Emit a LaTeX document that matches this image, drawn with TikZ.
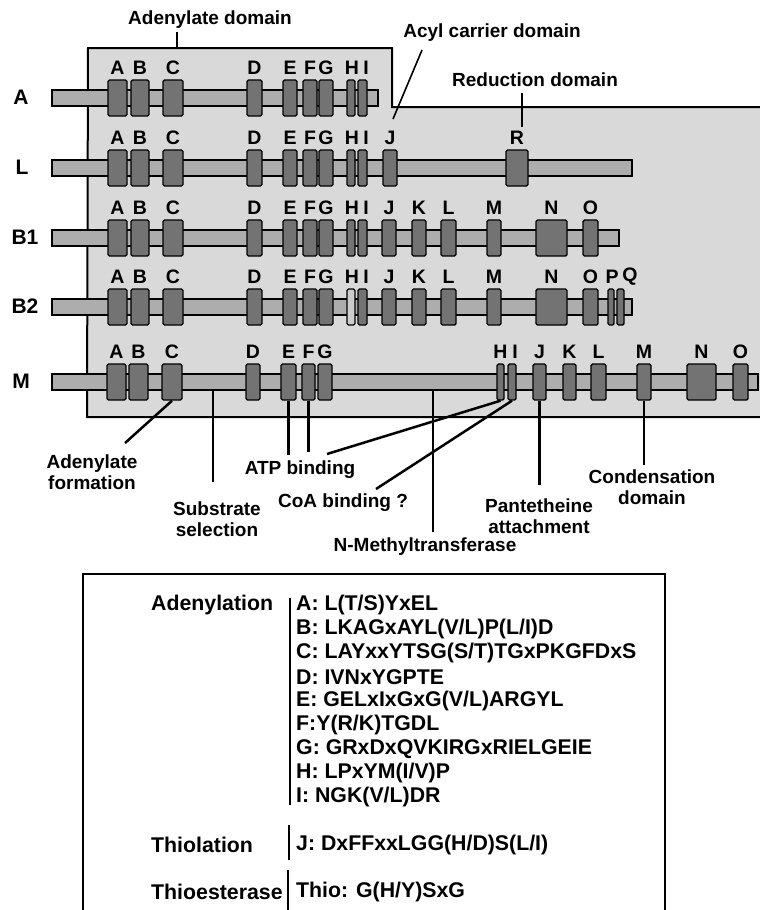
\documentclass[tikz,border=0pt]{standalone}
\usepackage{fontspec}
\setmainfont{Liberation Sans}
\usetikzlibrary{calc}
\definecolor{bgc}{gray}{0.85}
\definecolor{barc}{gray}{0.68}
\definecolor{boxc}{gray}{0.45}
\definecolor{lboxc}{gray}{0.80}
\newcommand\seg[6]{%
  \node[dbox,#6,minimum width={#3-#2}] (#1) at ({(#2+#3)/2},#4) {};
  \node[let] (#1t) at ({(#2+#3)/2},{#4-30}) {#5};}
\newcommand\segx[7]{% with explicit letter x
  \node[dbox,#6,minimum width={#3-#2}] (#1) at ({(#2+#3)/2},#4) {};
  \node[let] (#1t) at (#7,{#4-30}) {#5};}
\newcommand\abcrow[2]{% prefix, y
  \seg{#1A}{108}{127}{#2}{A}{}
  \seg{#1B}{131}{149}{#2}{B}{}
  \seg{#1C}{163}{183}{#2}{C}{}
  \seg{#1D}{247}{262}{#2}{D}{}
  \seg{#1E}{283}{297}{#2}{E}{}
  \seg{#1F}{303}{317}{#2}{F}{}
  \seg{#1G}{319}{333}{#2}{G}{}}
\begin{document}
\begin{tikzpicture}[x=1pt,y=-1pt,
  lab/.style={font=\fontsize{19}{21}\selectfont\bfseries, inner sep=0pt, align=center},
  let/.style={font=\fontsize{19.5}{21}\selectfont\bfseries, inner sep=0pt},
  rowlab/.style={font=\fontsize{21}{22}\selectfont\bfseries, inner sep=0pt},
  dbox/.style={draw=black, fill=boxc, line width=1.4pt, rounded corners=1.5pt, inner sep=0pt, minimum height=36pt},
  barsty/.style={draw=black, fill=barc, line width=1.4pt, inner sep=0pt, minimum height=16pt},
  conn/.style={line width=2.5pt},
  tick/.style={line width=1.6pt},
  btxt/.style={font=\fontsize{21.3}{24}\selectfont\bfseries, inner sep=0pt, anchor=west},
  ]
\useasboundingbox (0,0) rectangle (760,910);
% shaded region
\fill[bgc] (88,48) -- (392,48) -- (392,107) -- (760,107) -- (760,417) -- (87,417) -- cycle;
\draw[line width=2pt] (761,107) -- (392,107) -- (392,48) -- (88,48) -- (87,417) -- (761,417);
% bars
\node[barsty, minimum width=326] (barA) at (215,98) {};
\node[barsty, minimum width=580] (barL) at (342,168) {};
\node[barsty, minimum width=567] (barB1) at (335.5,238) {};
\node[barsty, minimum width=580] (barB2) at (342,307) {};
\node[barsty, minimum width=706] (barM) at (405,382) {};
% row labels
\node[rowlab] (rA) at (21,97) {A};
\node[rowlab] (rL) at (22,167) {L};
\node[rowlab] (rB1) at (25,237) {B1};
\node[rowlab] (rB2) at (25,306) {B2};
\node[rowlab] (rM) at (21,381) {M};
% row A
\abcrow{a}{98}
\segx{aH}{347}{355}{98}{H}{}{352}
\segx{aI}{358}{367}{98}{I}{}{366}
% row L
\abcrow{l}{168}
\segx{lH}{347}{355}{168}{H}{}{352}
\segx{lI}{358}{367}{168}{I}{}{366}
\seg{lJ}{383}{397}{168}{J}{}
\seg{lR}{506}{528}{168}{R}{}
% row B1
\abcrow{b}{238}
\segx{bH}{347}{355}{238}{H}{}{352}
\segx{bI}{358}{367}{238}{I}{}{366}
\seg{bJ}{382}{396}{238}{J}{}
\seg{bK}{412}{426}{238}{K}{}
\seg{bL}{441}{456}{238}{L}{}
\seg{bM}{487}{501}{238}{M}{}
\seg{bN}{536}{567}{238}{N}{}
\seg{bO}{583}{598}{238}{O}{}
% row B2
\abcrow{c}{307}
\segx{cH}{347}{355}{307}{H}{fill=lboxc}{352}
\segx{cI}{358}{367}{307}{I}{}{366}
\seg{cJ}{382}{396}{307}{J}{}
\seg{cK}{412}{426}{307}{K}{}
\seg{cL}{441}{456}{307}{L}{}
\seg{cM}{487}{501}{307}{M}{}
\seg{cN}{536}{567}{307}{N}{}
\seg{cO}{583}{598}{307}{O}{}
\segx{cP}{608}{614}{307}{P}{}{612}
\segx{cQ}{617}{624}{307}{Q}{}{630}
% row M
\seg{mA}{107}{126}{382}{A}{}
\seg{mB}{129}{148}{382}{B}{}
\seg{mC}{162}{182}{382}{C}{}
\seg{mD}{246}{260}{382}{D}{}
\seg{mE}{281}{296}{382}{E}{}
\seg{mF}{302}{315}{382}{F}{}
\seg{mG}{318}{332}{382}{G}{}
\seg{mH}{497}{504}{382}{H}{}
\segx{mI}{508}{516}{382}{I}{}{515}
\seg{mJ}{533}{546}{382}{J}{}
\seg{mK}{563}{576}{382}{K}{}
\seg{mL}{591}{606}{382}{L}{}
\seg{mM}{637}{651}{382}{M}{}
\seg{mN}{687}{716}{382}{N}{}
\seg{mO}{733}{748}{382}{O}{}
% top annotations
\node[lab] (adlab) at (210,20) {Adenylate domain};
\coordinate (adtick) at (177,48);
\draw[tick] (177,32) -- (adtick);
\node[lab] (aclab) at (492,33) {Acyl carrier domain};
\coordinate (acS) at (422,50);
\coordinate (acE) at (393,119);
\draw[tick] (acS) -- (acE);
\node[lab] (rdlab) at (535,80) {Reduction domain};
\coordinate (rdS) at (522,93);
\coordinate (rdE) at (522,127);
\draw[tick] (rdS) -- (rdE);
% bottom annotations
\coordinate (adfE) at (125,443);
\draw[conn] (mC.south) -- (adfE);
\node[lab] (adf) at (92,472) {Adenylate\\formation};
\coordinate (subS) at (213,390);
\coordinate (subE) at (213,482);
\draw[conn] (subS) -- (subE);
\node[lab] (sub) at (217,519) {Substrate\\selection};
\coordinate (atpE1) at (288.5,455);
\coordinate (atpE2) at (308.5,452);
\coordinate (atpE3) at (327,454);
\draw[conn] (mE.south) -- (atpE1);
\draw[conn] (mF.south) -- (atpE2);
\draw[conn] (mH.south) -- (atpE3);
\node[lab] (atp) at (300,470) {ATP binding};
\coordinate (coaE) at (376,489);
\draw[conn] (mI.south) -- (coaE);
\node[lab] (coa) at (343,503) {CoA binding ?};
\coordinate (nmS) at (433,390);
\coordinate (nmE) at (433,532);
\draw[conn] (nmS) -- (nmE);
\node[lab] (nmt) at (425,547) {N-Methyltransferase};
\coordinate (panE) at (539.5,485);
\draw[conn] (mJ.south) -- (panE);
\node[lab] (pan) at (539,516) {Pantetheine\\attachment};
\coordinate (conE) at (644,465);
\draw[conn] (mM.south) -- (conE);
\node[lab] (cond) at (652,487) {Condensation\\domain};
% motif box
\draw[line width=2pt] (83,912) -- (83,574) -- (665,574) -- (665,912);
\node[btxt] (gAd) at (151,605) {Adenylation};
\node[btxt] (gTl) at (151,845) {Thiolation};
\node[btxt] (gTe) at (151,892) {Thioesterase};
\foreach \t [count=\i from 0] in {A: L(T/S)YxEL, B: LKAGxAYL(V/L)P(L/I)D, C: LAYxxYTSG(S/T)TGxPKGFDxS, D: IVNxYGPTE, E: GELxIxGxG(V/L)ARGYL, F:Y(R/K)TGDL, G: GRxDxQVKIRGxRIELGEIE, H: LPxYM(I/V)P, I: NGK(V/L)DR}
  \node[btxt] (mot\i) at (296,{605+24*\i}) {\t};
\node[btxt] (motJ) at (296,845) {J: DxFFxxLGG(H/D)S(L/I)};
\node[btxt] (motT) at (296,892) {Thio: G(H/Y)SxG};
\coordinate (vb1) at (290,598);
\coordinate (vb2) at (290,805);
\draw[line width=2.4pt] (vb1) -- (vb2);
\coordinate (vb3) at (289,825);
\coordinate (vb4) at (289,860);
\draw[line width=2.4pt] (vb3) -- (vb4);
\coordinate (vb5) at (288,870);
\coordinate (vb6) at (288,912);
\draw[line width=2.4pt] (vb5) -- (vb6);
\end{tikzpicture}
\end{document}
